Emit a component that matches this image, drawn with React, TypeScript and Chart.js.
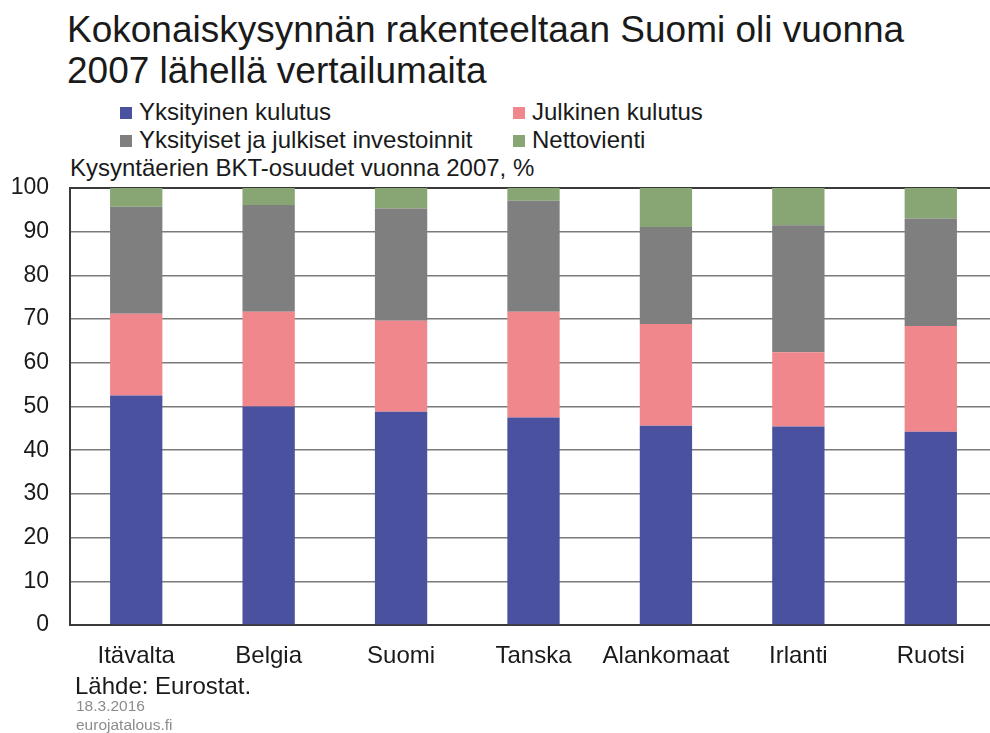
import React, { useEffect, useRef } from "react";
import { Chart, registerables } from "chart.js";

Chart.register(...registerables);

const categories = ["Itävalta", "Belgia", "Suomi", "Tanska", "Alankomaat", "Irlanti", "Ruotsi"];
const yksityinenKulutus = [52.5, 50.0, 48.8, 47.5, 45.6, 45.4, 44.2];
const julkinenKulutus = [18.7, 21.7, 20.8, 24.2, 23.3, 17.0, 24.2];
const investoinnit = [24.5, 24.4, 25.7, 25.4, 22.2, 29.1, 24.6];
const nettovienti = [4.3, 3.9, 4.7, 2.9, 8.9, 8.5, 7.0];
const seriesNames = ["Yksityinen kulutus", "Julkinen kulutus", "Yksityiset ja julkiset investoinnit", "Nettovienti"];
const seriesColors = ["#4a529f", "#ef878c", "#7f7f7f", "#87a673"];

const FONT = "'Liberation Sans', Arial, sans-serif";

export default function App() {
  const ref = useRef<HTMLCanvasElement | null>(null);

  useEffect(() => {
    if (!ref.current) return;
    const data = [yksityinenKulutus, julkinenKulutus, investoinnit, nettovienti];
    const chart = new Chart(ref.current, {
      type: "bar",
      data: {
        labels: categories,
        datasets: data.map((d, i) => ({
          label: seriesNames[i],
          data: d,
          backgroundColor: seriesColors[i],
          borderWidth: 0,
          barPercentage: 0.395,
          categoryPercentage: 1,
        })),
      },
      options: {
        animation: false,
        responsive: false,
        maintainAspectRatio: false,
        layout: { padding: { top: 38, right: 0, bottom: 0, left: 0 } },
        plugins: { legend: { display: false }, tooltip: { enabled: false } },
        scales: {
          x: {
            stacked: true,
            grid: { display: false, drawTicks: false },
            border: { display: true, color: "#3a3a3a", width: 2 },
            ticks: { color: "#1a1a1a", font: { family: FONT, size: 24 }, padding: 17, maxRotation: 0, autoSkip: false },
            afterFit: (s: any) => { s.height = 55; s.paddingLeft = 0; s.paddingRight = 0; },
          },
          y: {
            stacked: true,
            min: 0,
            max: 100,
            grid: {
              drawTicks: false,
              color: (ctx: any) => (ctx.tick && ctx.tick.value === 100 ? "#3a3a3a" : "#7a7a7a"),
              lineWidth: (ctx: any) => (ctx.tick && ctx.tick.value === 100 ? 2 : 1.5),
            },
            border: { display: true, color: "#3a3a3a", width: 2 },
            ticks: { stepSize: 10, color: "#1a1a1a", font: { family: FONT, size: 23 }, padding: 21 },
            afterFit: (s: any) => { s.width = 70; s.paddingTop = 0; s.paddingBottom = 0; },
          },
        },
      },
    });
    return () => chart.destroy();
  }, []);

  const text = (style: React.CSSProperties, content: React.ReactNode) => (
    <div style={{ position: "absolute", whiteSpace: "nowrap", lineHeight: 1, fontFamily: FONT, color: "#1a1a1a", ...style }}>{content}</div>
  );
  const legendItem = (i: number, left: number, top: number) => (
    <div style={{ position: "absolute", left, top, whiteSpace: "nowrap", lineHeight: 1, fontFamily: FONT, fontSize: 24, color: "#1a1a1a", display: "flex", alignItems: "center" }}>
      <span style={{ display: "inline-block", width: 12, height: 12, background: seriesColors[i], marginRight: 7, marginTop: 1 }} />
      <span>{seriesNames[i]}</span>
    </div>
  );

  return (
    <div style={{ position: "absolute", left: 0, top: 0, width: 990, height: 733, overflow: "hidden", background: "#fff" }}>
      {text({ left: 67, top: 11, fontSize: 37 }, "Kokonaiskysynnän rakenteeltaan Suomi oli vuonna")}
      {text({ left: 67, top: 52, fontSize: 37 }, "2007 lähellä vertailumaita")}
      {legendItem(0, 120, 100)}
      {legendItem(1, 513, 100)}
      {legendItem(2, 120, 128)}
      {legendItem(3, 513, 128)}
      {text({ left: 70, top: 156, fontSize: 24 }, "Kysyntäerien BKT-osuudet vuonna 2007, %")}
      <canvas ref={ref} width={997} height={530} style={{ position: "absolute", left: 0, top: 150, width: 997, height: 530 }} />
      {text({ left: 75, top: 674, fontSize: 24 }, "Lähde: Eurostat.")}
      {text({ left: 76, top: 698, fontSize: 15.5, color: "#8c8c8c" }, "18.3.2016")}
      {text({ left: 76, top: 717, fontSize: 15.5, color: "#8c8c8c" }, "eurojatalous.fi")}
    </div>
  );
}
